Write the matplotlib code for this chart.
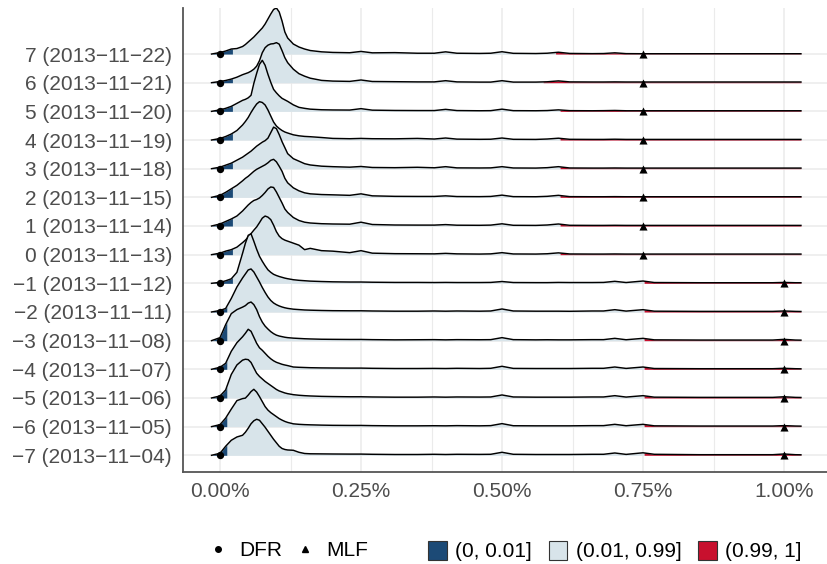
import numpy as np
import matplotlib
matplotlib.use('Agg')
import matplotlib.pyplot as plt
from matplotlib.lines import Line2D
from matplotlib.patches import Patch

plt.rcParams['font.family'] = ['Liberation Sans', 'DejaVu Sans']

# rows from bottom (-7) to top (7)
rows = [-7, -6, -5, -4, -3, -2, -1, 0, 1, 2, 3, 4, 5, 6, 7]
dates = ['2013-11-04', '2013-11-05', '2013-11-06', '2013-11-07', '2013-11-08',
         '2013-11-11', '2013-11-12', '2013-11-13', '2013-11-14', '2013-11-15',
         '2013-11-18', '2013-11-19', '2013-11-20', '2013-11-21', '2013-11-22']

# policy rates (%)
dfr = [0.0, 0.0, 0.0, 0.0, 0.0, 0.0, 0.0, 0.0, 0.0, 0.0, 0.0, 0.0, 0.0, 0.0, 0.0]
mlf = [1.0, 1.0, 1.0, 1.0, 1.0, 1.0, 1.0, 0.75, 0.75, 0.75, 0.75, 0.75, 0.75, 0.75, 0.75]

# quantile cut points (1% and 99%) per row
q01 = [0.012, 0.012, 0.012, 0.012, 0.012, 0.012, 0.022, 0.022, 0.022, 0.022, 0.022, 0.022, 0.022, 0.022, 0.022]
q99 = [0.752, 0.752, 0.752, 0.752, 0.752, 0.752, 0.752, 0.603, 0.603, 0.603, 0.603, 0.603, 0.603, 0.573, 0.595]

# rate grid (%) on which the densities were read
x_grid = [-0.015, 0.0, 0.01, 0.02, 0.03, 0.04, 0.045, 0.05, 0.055, 0.06, 0.065, 0.07, 0.075, 0.08,
          0.085, 0.09, 0.095, 0.10, 0.105, 0.11, 0.115, 0.12, 0.13, 0.14, 0.15, 0.16, 0.18, 0.20,
          0.23, 0.25, 0.27,
          0.31, 0.35, 0.38, 0.40, 0.42, 0.46, 0.48, 0.50, 0.52, 0.56, 0.58, 0.60, 0.62, 0.66, 0.68,
          0.70, 0.72, 0.75, 0.77, 0.85, 0.98, 1.00, 1.02, 1.03]

# ridge heights (relative density)
dens_m7 = [0, 2, 9, 15, 18.3, 20, 23, 27, 31.5, 34.5, 36, 35, 31.5, 28, 24, 20, 16, 12.5, 9, 6.8,
           5.8, 5.3, 5, 3, 1.8, 1.5, 1.4, 1.3, 1.2, 1.2, 1.0,
           0.8, 0.8, 1.0, 0.8, 1.0, 0.9, 1.0, 3.0, 1.0, 0.8, 0.8, 0.8, 0.8, 1.0, 1.0, 2.3, 0.9, 2.5,
           1.0, 0.6, 0.6, 1.3, 0.6, 0.5]
dens_m6 = [0, 2, 8.5, 17.5, 26, 28, 28.5, 31.5, 35, 37.3, 34.5, 30, 25, 20, 16.5, 14, 12, 10, 8,
           6.5, 5.2, 4.2, 2.8, 2.3, 2, 1.8, 1.5, 1.3, 1.2, 1.2, 1.0,
           0.8, 0.8, 0.9, 0.8, 1.0, 0.8, 1.0, 3.0, 0.9, 0.8, 0.8, 0.8, 0.8, 1.0, 1.0, 2.3, 0.9, 2.3,
           0.8, 0.6, 0.6, 1.0, 0.6, 0.5]
dens_m5 = [0, 2, 8, 23.5, 33, 37.8, 38.7, 38.3, 35.5, 30, 24.7, 21.5, 19, 16.5, 14.5, 12.5, 10.5,
           8.5, 7, 6, 5, 4.3, 3.3, 2.7, 2.3, 2, 1.6, 1.4, 1.2, 1.2, 1.0,
           0.8, 0.8, 1.0, 0.8, 1.0, 0.9, 1.0, 3.0, 1.0, 0.8, 0.8, 0.8, 0.8, 1.0, 1.0, 2.3, 0.9, 2.3,
           0.8, 0.6, 0.6, 1.2, 0.6, 0.5]
dens_m4 = [0, 2, 6, 18, 26.6, 32.5, 36, 40, 38, 32, 26, 21.5, 19, 16, 13, 10.5, 8.5, 7, 6, 5,
           4.3, 3.7, 2.3, 2, 1.8, 1.6, 1.4, 1.3, 1.2, 1.2, 1.0,
           0.8, 0.8, 0.9, 0.8, 1.0, 0.8, 1.0, 3.0, 0.9, 0.8, 0.8, 0.8, 0.8, 1.0, 1.0, 2.3, 0.9, 2.3,
           0.8, 0.6, 0.6, 1.0, 0.6, 0.5]
dens_m3 = [0, 3, 16, 27, 31, 33.5, 35, 37.5, 38.6, 36, 31, 24, 18.5, 14.5, 11.6, 9, 7, 5.5, 4.6,
           4, 3.4, 3, 2.5, 2.2, 1.9, 1.7, 1.4, 1.3, 1.2, 1.2, 1.0,
           0.8, 0.9, 1.0, 0.8, 1.0, 0.9, 1.0, 3.0, 1.0, 0.8, 0.9, 0.8, 0.8, 1.0, 1.0, 2.3, 0.9, 2.3,
           0.8, 0.6, 0.6, 1.3, 0.6, 0.5]
dens_m2 = [0, 1.5, 3.5, 13.5, 25, 34, 38, 42, 43, 40, 35, 30, 24.5, 19.5, 15, 11.5, 9, 7.3, 6, 5,
           4.2, 3.6, 2.8, 2.4, 2.0, 1.8, 1.5, 1.3, 1.2, 1.2, 1.0,
           0.8, 0.8, 1.0, 0.8, 1.0, 0.8, 1.0, 3.0, 1.0, 0.8, 0.8, 0.8, 0.7, 1.0, 1.0, 2.3, 0.9, 2.3,
           0.8, 0.6, 0.6, 1.0, 0.6, 0.5]
dens_m1 = [0, 1, 2.5, 4.5, 11, 30, 40, 48, 49.5, 42, 34, 27, 22, 17.5, 13.5, 11, 9, 7.8, 6.8, 6,
           5.2, 4.6, 3.6, 3, 2.6, 2.2, 1.8, 1.5, 1.3, 1.3, 1.1,
           0.9, 0.9, 0.8, 0.9, 0.8, 0.8, 0.9, 1.8, 0.8, 0.7, 0.7, 0.9, 0.8, 0.8, 0.9, 2.0, 0.8, 2.3,
           0.8, 0.6, 0.6, 0.9, 0.6, 0.6]
dens_p0 = [0, 1.5, 3.5, 5, 7.5, 12, 14.5, 17.5, 21, 24.5, 27.7, 32, 36.5, 38.6, 37.5, 35, 29.5,
           23, 18.5, 16, 14.5, 13.5, 11.5, 9.5, 5, 6.3, 4, 3.5, 2.0, 4.0, 1.5,
           1.0, 0.9, 0.8, 1.3, 0.8, 0.6, 0.8, 2.0, 0.7, 0.6, 0.9, 1.8, 0.7, 0.6, 0.6, 0.7, 0.6, 0.6,
           0.6, 0.6, 0.6, 0.6, 0.6, 0.6]
dens_p1 = [0, 2, 4.5, 7, 10, 15, 18, 21, 23.5, 25.5, 26.5, 28, 30.5, 33.5, 37, 39, 38.5, 34, 28.5,
           23, 17, 13.5, 8.5, 5.5, 3.8, 3, 2.3, 2.0, 1.8, 3.8, 1.5,
           1.0, 0.9, 0.9, 1.4, 0.8, 0.7, 0.9, 2.2, 0.7, 0.6, 1.0, 2.0, 0.7, 0.6, 0.6, 0.7, 0.6, 0.6,
           0.6, 0.6, 0.6, 0.6, 0.6, 0.6]
dens_p2 = [0, 2, 5, 8.5, 12, 16.5, 19, 21, 23.5, 26, 28, 29.5, 31, 32.5, 34.5, 37, 38, 35.5, 31,
           26, 19, 14.5, 9.5, 6.5, 4.5, 3.5, 2.8, 2.5, 2.0, 3.5, 1.5,
           1.0, 0.9, 0.9, 1.5, 0.8, 0.7, 0.9, 2.2, 0.7, 0.6, 1.0, 2.0, 0.7, 0.6, 0.6, 0.7, 0.6, 0.6,
           0.6, 0.6, 0.6, 0.6, 0.6, 0.6]
dens_p3 = [0, 1.5, 3.5, 5.5, 8.5, 11.5, 13.5, 15.5, 17.5, 20, 22.5, 24.5, 26.5, 28, 30.5, 36,
           41.5, 40, 34, 27, 21, 15, 10, 7.5, 5, 3.7, 2.5, 2.0, 1.5, 2.2, 1.2,
           1.0, 1.4, 0.9, 2.0, 0.8, 0.7, 0.8, 2.0, 0.7, 0.6, 1.0, 2.0, 0.7, 0.6, 0.6, 0.7, 0.6, 0.6,
           0.6, 0.6, 0.6, 0.6, 0.6, 0.6]
dens_p4 = [0, 1.5, 3.5, 6, 9.5, 15, 18.5, 22.5, 27.5, 32, 36, 38.3, 37.5, 35, 30, 24, 18, 14,
           11.5, 9.5, 8, 7, 5.2, 4.2, 3.6, 3.3, 2.5, 1.6, 1.3, 1.6, 1.3,
           1.2, 1.6, 1.0, 2.0, 0.9, 0.7, 0.8, 2.0, 0.7, 0.6, 1.0, 1.8, 0.7, 0.6, 0.6, 0.8, 0.6, 0.6,
           0.6, 0.6, 0.6, 0.6, 0.6, 0.6]
dens_p5 = [0, 1.5, 3, 5, 8, 11, 12, 13.5, 16, 28, 38, 47, 51, 46, 37, 29, 22, 18.5, 15.5, 13,
           11.5, 10, 6.5, 4, 3, 2.2, 1.6, 1.4, 1.3, 2.7, 1.2,
           0.9, 0.8, 0.8, 2.0, 0.8, 0.6, 0.7, 2.2, 0.7, 0.6, 0.8, 1.5, 0.7, 0.6, 0.7, 0.9, 0.6, 0.6,
           0.6, 0.6, 0.6, 0.6, 0.6, 0.6]
dens_p6 = [0, 1.2, 2.2, 3.6, 5.5, 8, 9, 10, 11.5, 13.5, 16.5, 22, 30, 35, 37.5, 38.7, 39, 40,
           38.5, 32, 25, 20, 13.5, 9, 6.5, 4.5, 2.3, 1.6, 1.3, 2.7, 1.2,
           1.0, 0.8, 0.8, 2.0, 0.8, 0.6, 0.6, 2.0, 0.6, 0.6, 0.9, 1.8, 0.8, 0.7, 0.7, 0.8, 0.7, 0.7,
           0.7, 0.7, 0.7, 0.7, 0.7, 0.7]
dens_p7 = [0, 1.5, 3, 5, 5.5, 7.5, 9.5, 12, 14.5, 17, 20, 23, 26, 30, 35, 40, 44.5, 46, 42, 33,
           22, 16, 10, 7, 5, 3.5, 2.2, 1.6, 1.3, 2.6, 1.2,
           1.4, 0.8, 0.8, 2.2, 0.8, 0.6, 0.8, 2.3, 0.7, 0.5, 0.8, 1.8, 0.6, 0.4, 0.5, 1.2, 0.4, 0.3,
           0.3, 0.3, 0.3, 0.3, 0.3, 0.3]

dens = [dens_m7, dens_m6, dens_m5, dens_m4, dens_m3, dens_m2, dens_m1, dens_p0,
        dens_p1, dens_p2, dens_p3, dens_p4, dens_p5, dens_p6, dens_p7]

col_lo = '#1c4a76'
col_mid = '#d8e4ea'
col_hi = '#c8102e'

fig = plt.figure(figsize=(8.27, 5.64), dpi=100)
ax = fig.add_axes([183 / 827, 92 / 564, 644 / 827, 464 / 564])

x = np.array(x_grid)
scale = 1 / 28.64
n = len(rows)
for i in range(n):
    zo = 2 + (n - i) * 0.05
    h = np.array(dens[i]) * scale
    xs = np.union1d(x, [q01[i], q99[i]])
    hs = np.interp(xs, x, h)
    ax.fill_between(xs, i, i + hs, color=col_mid, lw=0, zorder=zo)
    m = xs <= q01[i]
    ax.fill_between(xs[m], i, i + hs[m], color=col_lo, lw=0, zorder=zo)
    m = xs >= q99[i]
    ax.fill_between(xs[m], i, i + hs[m], color=col_hi, lw=0, zorder=zo)
    ax.plot(x, i + h, color='black', lw=1.05, zorder=zo + 0.01)

ypos = np.arange(n)
ax.scatter(dfr, ypos, marker='o', s=28, color='black', zorder=10, lw=0)
ax.scatter(mlf, ypos, marker='^', s=34, color='black', zorder=10, lw=0)

ax.set_xlim(-0.0656, 1.0762)
ax.set_ylim(-0.583, 15.606)

ax.set_xticks([0, 0.25, 0.5, 0.75, 1.0])
ax.set_xticklabels(['0.00%', '0.25%', '0.50%', '0.75%', '1.00%'])
ax.set_xticks([0.125, 0.375, 0.625, 0.875], minor=True)
ax.set_yticks(ypos)
ax.set_yticklabels([f'{r} ({d})'.replace('-', '\u2212') for r, d in zip(rows, dates)])

ax.set_axisbelow(True)
ax.grid(which='major', axis='both', color='#ebebeb', lw=1.1)
ax.grid(which='minor', axis='x', color='#ebebeb', lw=0.8)
ax.tick_params(which='both', length=0, labelsize=15, labelcolor='#4d4d4d')
ax.tick_params(axis='y', pad=8)
ax.tick_params(axis='x', pad=7)
for s in ['top', 'right']:
    ax.spines[s].set_visible(False)
for s in ['left', 'bottom']:
    ax.spines[s].set_color('#555555')
    ax.spines[s].set_linewidth(1.3)

# legends
pt_handles = [Line2D([], [], marker='o', ls='', color='black', markersize=4),
              Line2D([], [], marker='^', ls='', color='black', markersize=5)]
leg1 = fig.legend(pt_handles, ['DFR', 'MLF'], loc='center', bbox_to_anchor=(288 / 827, 13 / 564),
                  ncol=2, frameon=False, fontsize=15, handlelength=1.0, handletextpad=0.5,
                  columnspacing=0.6, borderpad=0)
fill_handles = [Patch(facecolor=col_lo, edgecolor='#333333', lw=0.8),
                Patch(facecolor=col_mid, edgecolor='#333333', lw=0.8),
                Patch(facecolor=col_hi, edgecolor='#333333', lw=0.8)]
leg2 = fig.legend(fill_handles, ['(0, 0.01]', '(0.01, 0.99]', '(0.99, 1]'], loc='center',
                  bbox_to_anchor=(615 / 827, 13 / 564), ncol=3, frameon=False, fontsize=15,
                  handlelength=0.9, handleheight=1.05, handletextpad=0.4, columnspacing=0.8,
                  borderpad=0)

fig.savefig('out.png', dpi=100)
